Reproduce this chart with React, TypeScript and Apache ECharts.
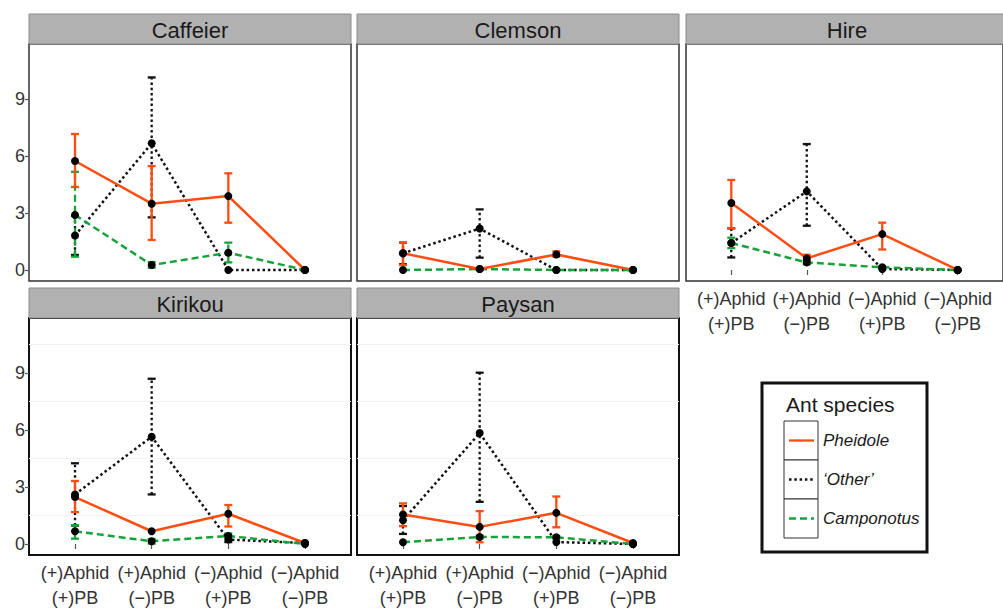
import React, { useEffect, useRef } from "react";
import * as echarts from "echarts";

const sites = ["Caffeier", "Clemson", "Hire", "Kirikou", "Paysan"];
const categories = ["(+)Aphid\n(+)PB", "(+)Aphid\n(−)PB", "(−)Aphid\n(+)PB", "(−)Aphid\n(−)PB"];
const yTicks = [0, 3, 6, 9];
const minorGrid = [1.5, 4.5, 7.5, 10.5];
const speciesNames = ["Pheidole", "‘Other’", "Camponotus"];

// rows: Caffeier, Clemson, Hire, Kirikou, Paysan
const pheidoleMean = [
  [5.74, 3.49, 3.89, 0],
  [0.88, 0.05, 0.82, 0],
  [3.53, 0.61, 1.89, 0],
  [2.47, 0.67, 1.59, 0.05],
  [1.55, 0.9, 1.64, 0.05],
];
const pheidoleLow = [
  [4.37, 1.58, 2.49, 0],
  [0.26, 0.0, 0.7, 0],
  [2.19, 0.35, 1.08, 0],
  [1.68, 0.67, 0.92, 0.05],
  [0.94, 0.09, 0.88, 0.05],
];
const pheidoleHigh = [
  [7.16, 5.47, 5.09, 0],
  [1.44, 0.1, 0.98, 0],
  [4.74, 0.8, 2.49, 0],
  [3.32, 0.67, 2.05, 0.05],
  [2.14, 1.73, 2.5, 0.05],
];
const otherMean = [
  [1.82, 6.67, 0, 0],
  [0.88, 2.18, 0, 0],
  [1.42, 4.14, 0.05, 0],
  [2.61, 5.65, 0.23, 0.05],
  [1.25, 5.84, 0.1, 0],
];
const otherLow = [
  [0.79, 2.77, 0, 0],
  [0.3, 0.65, 0, 0],
  [0.66, 2.33, 0.05, 0],
  [0.97, 2.61, 0.1, 0.05],
  [0.53, 2.22, 0.1, 0],
];
const otherHigh = [
  [2.85, 10.14, 0, 0],
  [1.44, 3.19, 0, 0],
  [2.19, 6.63, 0.05, 0],
  [4.25, 8.7, 0.4, 0.05],
  [2.0, 9.02, 0.1, 0],
];
const camponotusMean = [
  [2.9, 0.26, 0.91, 0],
  [0, 0.05, 0, 0],
  [1.42, 0.4, 0.14, 0],
  [0.67, 0.14, 0.42, 0],
  [0.09, 0.37, 0.35, 0],
];
const camponotusLow = [
  [0.7, 0.12, 0.4, 0],
  [0, 0.05, 0, 0],
  [1.15, 0.3, 0.1, 0],
  [0.28, 0.02, 0.3, 0],
  [0.09, 0.3, 0.3, 0],
];
const camponotusHigh = [
  [5.17, 0.42, 1.44, 0],
  [0, 0.05, 0, 0],
  [1.7, 0.5, 0.2, 0],
  [0.99, 0.26, 0.55, 0],
  [0.09, 0.45, 0.42, 0],
];

const FONT = "Liberation Sans, Arial, sans-serif";
const colors = ["#ff4d12", "#111111", "#17a23a"];
const dashes: (number[] | null)[] = [null, [2.5, 2.8], [7, 4]];

const panels = [
  { left: 29, top: 44, yLabels: true, xLabels: false },
  { left: 357, top: 44, yLabels: false, xLabels: false },
  { left: 686, top: 44, yLabels: false, xLabels: true },
  { left: 29, top: 318, yLabels: true, xLabels: true },
  { left: 357, top: 318, yLabels: false, xLabels: true },
];
const PW = 322;
const PH = 237;
const STRIP = 30;

export default function App() {
  const ref = useRef<HTMLDivElement>(null);
  useEffect(() => {
    if (!ref.current) return;
    const chart = echarts.init(ref.current, undefined, { renderer: "svg" });
    const means = [pheidoleMean, otherMean, camponotusMean];
    const lows = [pheidoleLow, otherLow, camponotusLow];
    const highs = [pheidoleHigh, otherHigh, camponotusHigh];

    const grid = panels.map((p, i) => ({
      left: p.left,
      top: p.top,
      width: PW,
      height: PH,
      show: true,
      backgroundColor: "#fff",
      borderColor: i >= 3 ? "#111" : "#333",
      borderWidth: i >= 3 ? 2 : 1.5,
    }));
    const xAxis = panels.map((p, i) => ({
      type: "value",
      gridIndex: i,
      min: 0.4,
      max: 4.6,
      axisLine: { show: false },
      splitLine: { show: false },
      axisTick: {
        show: p.xLabels,
        customValues: [1, 2, 3, 4],
        length: 5,
        lineStyle: { color: "#555", width: 1.2 },
      },
      axisLabel: {
        show: p.xLabels,
        customValues: [1, 2, 3, 4],
        formatter: (v: number) => categories[Math.round(v) - 1] ?? "",
        fontSize: 18,
        lineHeight: 25,
        margin: 5,
        color: "#333",
        fontFamily: FONT,
      },
    }));
    const yAxis = panels.map((p, i) => ({
      type: "value",
      gridIndex: i,
      min: -0.58,
      max: 11.9,
      axisLine: { show: false },
      splitLine: { show: false },
      axisTick: {
        show: p.yLabels,
        customValues: yTicks,
        length: 4,
        lineStyle: { color: "#555", width: 1.2 },
      },
      axisLabel: {
        show: p.yLabels,
        customValues: yTicks,
        fontSize: 18,
        margin: 4,
        color: "#333",
        fontFamily: FONT,
      },
    }));

    const series: any[] = [];
    panels.forEach((p, pi) => {
      [1, 2, 0].forEach((s) => {
        const errData = categories
          .map((_, ci) => [ci + 1, lows[s][pi][ci], highs[s][pi][ci]])
          .filter((d) => d[2] - d[1] > 0.001);
        series.push({
          type: "custom",
          name: speciesNames[s] + " err",
          xAxisIndex: pi,
          yAxisIndex: pi,
          z: 2,
          silent: true,
          data: errData,
          encode: { x: 0, y: [1, 2] },
          renderItem: (params: any, api: any) => {
            const x = api.value(0);
            const a = api.coord([x, api.value(1)]);
            const b = api.coord([x, api.value(2)]);
            const w = 4;
            const st: any = { stroke: colors[s], lineWidth: 2.3 };
            const vst: any = { ...st };
            if (dashes[s]) vst.lineDash = dashes[s];
            return {
              type: "group",
              children: [
                { type: "line", shape: { x1: a[0], y1: a[1], x2: b[0], y2: b[1] }, style: vst },
                { type: "line", shape: { x1: a[0] - w, y1: a[1], x2: a[0] + w, y2: a[1] }, style: st },
                { type: "line", shape: { x1: b[0] - w, y1: b[1], x2: b[0] + w, y2: b[1] }, style: st },
              ],
            };
          },
        });
      });
      [1, 2, 0].forEach((s) => {
        const ser: any = {
          type: "line",
          name: speciesNames[s],
          xAxisIndex: pi,
          yAxisIndex: pi,
          z: 3,
          data: categories.map((_, ci) => [ci + 1, means[s][pi][ci]]),
          symbol: "circle",
          symbolSize: 8,
          itemStyle: { color: "#000" },
          lineStyle: { color: colors[s], width: 2.5, type: dashes[s] ?? "solid" },
          silent: true,
        };
        if (pi >= 3 && s === 1) {
          ser.markLine = {
            silent: true,
            symbol: "none",
            label: { show: false },
            lineStyle: { color: "#f2f2f2", width: 1, type: "solid" },
            z: 1,
            data: minorGrid.map((v) => ({ yAxis: v })),
          };
        }
        series.push(ser);
      });
    });

    const graphic: any[] = [];
    panels.forEach((p, i) => {
      graphic.push({
        type: "rect",
        shape: { x: p.left, y: p.top - STRIP, width: PW, height: STRIP },
        style: { fill: "#b1b1b1", stroke: "#8c8c8c", lineWidth: 1 },
        z: 10,
      });
      graphic.push({
        type: "text",
        x: p.left + PW / 2,
        y: p.top - STRIP / 2 + 1,
        style: {
          text: sites[i],
          fontSize: 22,
          fontFamily: FONT,
          fill: "#1a1a1a",
          align: "center",
          verticalAlign: "middle",
        },
        z: 11,
      });
    });
    // legend
    const lx = 762, ly = 383;
    graphic.push({
      type: "rect",
      shape: { x: lx, y: ly, width: 165, height: 169 },
      style: { fill: "#fff", stroke: "#111", lineWidth: 3 },
      z: 10,
    });
    graphic.push({
      type: "text",
      x: 786,
      y: 404,
      style: { text: "Ant species", fontSize: 21, fontFamily: FONT, fill: "#1a1a1a", verticalAlign: "middle" },
      z: 11,
    });
    speciesNames.forEach((name, s) => {
      const by = 421 + s * 39;
      graphic.push({
        type: "rect",
        shape: { x: 784, y: by, width: 34, height: 39 },
        style: { fill: "#fff", stroke: "#333", lineWidth: 1 },
        z: 11,
      });
      const ls: any = { stroke: colors[s], lineWidth: 2.3 };
      if (dashes[s]) ls.lineDash = dashes[s];
      graphic.push({
        type: "line",
        shape: { x1: 789, y1: by + 19.5, x2: 814, y2: by + 19.5 },
        style: ls,
        z: 12,
      });
      graphic.push({
        type: "text",
        x: 823,
        y: by + 19.5,
        style: {
          text: name,
          fontSize: 17,
          fontStyle: "italic",
          fontFamily: FONT,
          fill: "#1a1a1a",
          verticalAlign: "middle",
        },
        z: 12,
      });
    });

    chart.setOption({
      animation: false,
      backgroundColor: "#fff",
      grid,
      xAxis,
      yAxis,
      series,
      graphic,
    });
    return () => chart.dispose();
  }, []);
  return (
    <div
      ref={ref}
      style={{ position: "absolute", left: 0, top: 0, width: 1003, height: 611 }}
    />
  );
}
